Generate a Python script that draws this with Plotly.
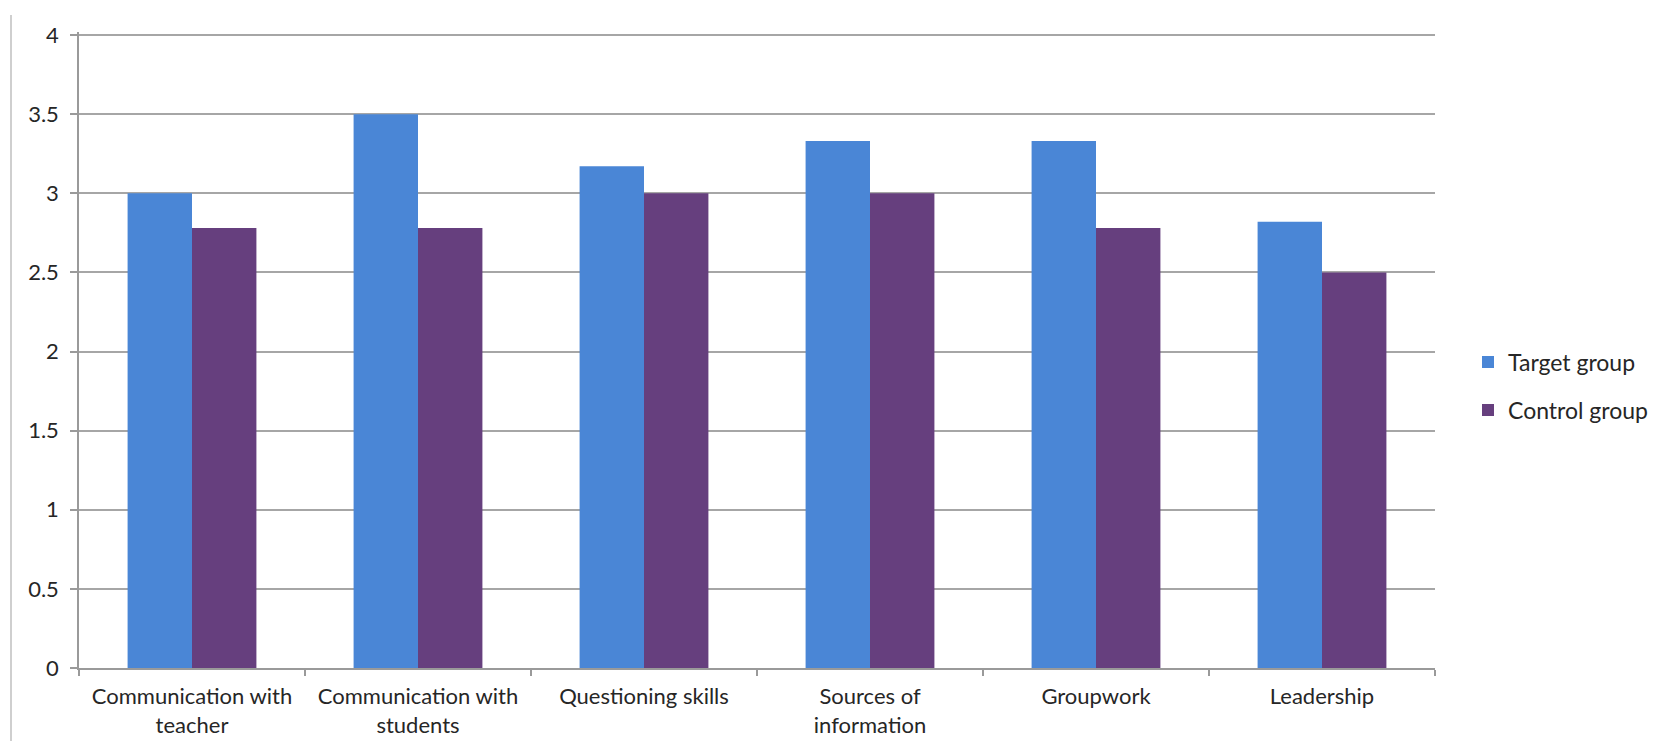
import plotly.graph_objects as go

categories = ["Communication with<br>teacher", "Communication with<br>students",
              "Questioning skills", "Sources of<br>information", "Groupwork", "Leadership"]
target_group = [3.0, 3.5, 3.17, 3.33, 3.33, 2.82]
control_group = [2.78, 2.78, 3.0, 3.0, 2.78, 2.5]
y_ticks = [0, 0.5, 1, 1.5, 2, 2.5, 3, 3.5, 4]
y_tick_text = ["0", "0.5", "1", "1.5", "2", "2.5", "3", "3.5", "4"]

W, H = 1658, 741
L, R, T, B = 79, 1435, 32, 668
px_per_unit = (B - 35) / 4.0
y_max = 4 + (35 - T) / px_per_unit

fig = go.Figure()
fig.add_trace(go.Bar(x=categories, y=target_group, name="Target group", showlegend=True,
                     marker=dict(color="#4a86d6", line=dict(width=0)), legend="legend"))
fig.add_trace(go.Bar(x=categories, y=control_group, name="Control group", showlegend=True,
                     marker=dict(color="#663f7e", line=dict(width=0)), legend="legend2"))

fam = "Lato, Open Sans, sans-serif"
font = dict(family=fam, size=22, color="#262626")
xfont = dict(family=fam, size=22, color="#262626")
legfont = dict(family=fam, size=23, color="#262626")
leg_common = dict(xanchor="left", yanchor="middle", font=legfont, bgcolor="rgba(0,0,0,0)",
                  itemwidth=30, itemsizing="constant")
fig.update_layout(
    width=W, height=H,
    margin=dict(l=L, r=W - R, t=T, b=H - B, pad=0, autoexpand=False),
    paper_bgcolor="white", plot_bgcolor="white",
    barmode="group", bargap=0.43, bargroupgap=0,
    font=font, showlegend=True,
    legend=dict(x=(1468 - L) / (R - L), y=(B - 362) / (B - T), **leg_common),
    legend2=dict(x=(1468 - L) / (R - L), y=(B - 410) / (B - T), **leg_common),
    xaxis=dict(showline=True, linecolor="#9a9a9a", linewidth=1.5, automargin=False,
               ticks="outside", tickson="boundaries", ticklen=6, tickcolor="#9a9a9a",
               tickwidth=1.5, showgrid=False, tickfont=xfont, ticklabelstandoff=8),
    yaxis=dict(range=[0, y_max], tickvals=y_ticks, ticktext=y_tick_text, automargin=False,
               showline=True, linecolor="#9a9a9a", linewidth=1.5,
               ticks="outside", ticklen=7, tickcolor="#9a9a9a", tickwidth=1.5,
               showgrid=True, gridcolor="#a6a6a6", gridwidth=1.8,
               zeroline=False, tickfont=font, ticklabelstandoff=7),
    shapes=[dict(type="line", xref="paper", yref="paper",
                 x0=(11 - L) / (R - L), x1=(11 - L) / (R - L),
                 y0=(B - 15) / (B - T), y1=(B - 741) / (B - T),
                 line=dict(color="#cfcfcf", width=2))],
)

fig.write_html("out.html")
